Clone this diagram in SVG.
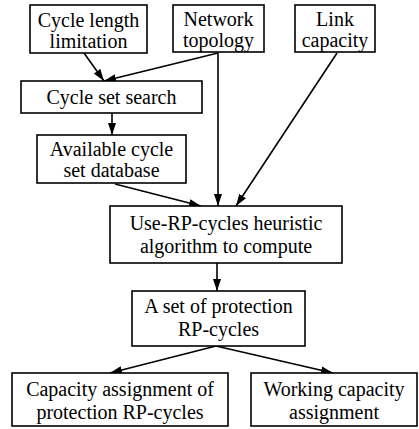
<svg xmlns="http://www.w3.org/2000/svg" width="419" height="429" viewBox="0 0 419 429">
  <style>
    .box { fill: #fff; stroke: #000; stroke-width: 1.6; }
    .lbl { font-family: "Liberation Serif", "Times New Roman", serif; font-size: 20px; fill: #000; text-anchor: middle; }
    .edge { fill: none; stroke: #000; stroke-width: 1.6; marker-end: url(#arrow); }
  </style>
  <defs>
    <marker id="arrow" viewBox="0 0 12 8" refX="12" refY="4" markerWidth="12" markerHeight="8" markerUnits="userSpaceOnUse" orient="auto">
      <path d="M0,0 L12,4 L0,8 Z" fill="#000"/>
    </marker>
  </defs>
  <rect width="419" height="429" fill="#fff"/>

  <!-- flow connectors -->
  <g id="connectors">
    <line class="edge" x1="84" y1="53" x2="104" y2="81"/>
    <line class="edge" x1="218" y1="53" x2="104" y2="81"/>
    <line class="edge" x1="218" y1="53" x2="218" y2="206"/>
    <line class="edge" x1="337" y1="53" x2="236" y2="206"/>
    <line class="edge" x1="112" y1="113" x2="112" y2="135"/>
    <line class="edge" x1="115" y1="184" x2="201" y2="206"/>
    <line class="edge" x1="217" y1="263" x2="217" y2="291"/>
    <line class="edge" x1="216" y1="346" x2="110" y2="373"/>
    <line class="edge" x1="216" y1="346" x2="333" y2="373"/>
  </g>

  <g id="cycle-length">
    <rect class="box" x="30" y="5" width="117" height="48"/>
    <text class="lbl" x="88.5" y="27">Cycle length</text>
    <text class="lbl" x="88.5" y="48">limitation</text>
  </g>
  <g id="network-topology">
    <rect class="box" x="173" y="5" width="91" height="47"/>
    <text class="lbl" x="218.5" y="26">Network</text>
    <text class="lbl" x="218.5" y="47">topology</text>
  </g>
  <g id="link-capacity">
    <rect class="box" x="295" y="5" width="80" height="47"/>
    <text class="lbl" x="335" y="26">Link</text>
    <text class="lbl" x="335" y="47">capacity</text>
  </g>
  <g id="cycle-set-search">
    <rect class="box" x="21" y="81" width="181" height="32"/>
    <text class="lbl" x="111.5" y="104">Cycle set search</text>
  </g>
  <g id="available-cycle-set">
    <rect class="box" x="37" y="135" width="149" height="48"/>
    <text class="lbl" x="111.5" y="156">Available cycle</text>
    <text class="lbl" x="111.5" y="177">set database</text>
  </g>
  <g id="heuristic">
    <rect class="box" x="110" y="206" width="232" height="57"/>
    <text class="lbl" x="226" y="230">Use-RP-cycles heuristic</text>
    <text class="lbl" x="226" y="253">algorithm to compute</text>
  </g>
  <g id="protection-set">
    <rect class="box" x="132" y="291" width="173" height="55"/>
    <text class="lbl" x="218.5" y="313">A set of protection</text>
    <text class="lbl" x="218.5" y="336">RP-cycles</text>
  </g>
  <g id="capacity-assignment">
    <rect class="box" x="12" y="373" width="216" height="53"/>
    <text class="lbl" x="120" y="396">Capacity assignment of</text>
    <text class="lbl" x="120" y="419">protection RP-cycles</text>
  </g>
  <g id="working-capacity">
    <rect class="box" x="251" y="373" width="166" height="53"/>
    <text class="lbl" x="334" y="396">Working capacity</text>
    <text class="lbl" x="334" y="419">assignment</text>
  </g>
</svg>
